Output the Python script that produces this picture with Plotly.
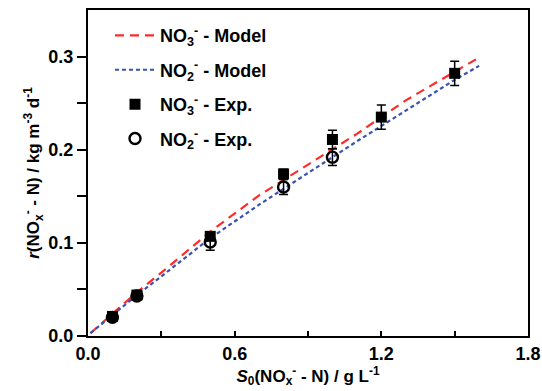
import plotly.graph_objects as go

# Model curves
model_x = [0.01, 0.1, 0.2, 0.3, 0.5, 0.7, 0.9, 1.1, 1.3, 1.5, 1.6]
no3_model_y = [0.003, 0.024, 0.047, 0.068, 0.112, 0.151, 0.184, 0.217, 0.253, 0.284, 0.299]
no2_model_y = [0.003, 0.022, 0.044, 0.064, 0.105, 0.141, 0.175, 0.209, 0.242, 0.275, 0.290]

# Experimental data
no3_exp_x = [0.1, 0.2, 0.5, 0.8, 1.0, 1.2, 1.5]
no3_exp_y = [0.021, 0.044, 0.107, 0.174, 0.211, 0.235, 0.282]
no3_exp_err = [0.004, 0.003, 0.004, 0.005, 0.010, 0.013, 0.013]
no2_exp_x = [0.1, 0.2, 0.5, 0.8, 1.0]
no2_exp_y = [0.020, 0.043, 0.101, 0.160, 0.192]
no2_exp_err = [0.004, 0.003, 0.009, 0.008, 0.009]

font_family = "Liberation Sans, Arial, sans-serif"

fig = go.Figure()
fig.add_trace(go.Scatter(
    x=model_x, y=no3_model_y, mode="lines",
    line=dict(color="#ff2a2a", width=2.2, dash="9px,6px"),
    name="NO<sub>3</sub><sup>-</sup> - Model", legendrank=1, legendgroup="a"))
fig.add_trace(go.Scatter(
    x=model_x, y=no2_model_y, mode="lines",
    line=dict(color="#3a52b0", width=2.2, dash="4px,3px"),
    name="NO<sub>2</sub><sup>-</sup> - Model", legendrank=2, legendgroup="b"))
fig.add_trace(go.Scatter(
    x=no2_exp_x, y=no2_exp_y, mode="markers",
    marker=dict(symbol="circle-open", size=11, color="black", line=dict(width=2.4, color="black")),
    error_y=dict(type="data", array=no2_exp_err, color="black", thickness=1.5, width=4.5),
    name="NO<sub>2</sub><sup>-</sup> - Exp.", legendrank=4, legendgroup="d"))
fig.add_trace(go.Scatter(
    x=no3_exp_x, y=no3_exp_y, mode="markers",
    marker=dict(symbol="square", size=11, color="black"),
    error_y=dict(type="data", array=no3_exp_err, color="black", thickness=1.5, width=4.5),
    name="NO<sub>3</sub><sup>-</sup> - Exp.", legendrank=3, legendgroup="c"))

fig.update_layout(
    width=542, height=391,
    margin=dict(l=88, r=14, t=10, b=55),
    plot_bgcolor="white", paper_bgcolor="white",
    font=dict(family=font_family, size=16, color="black"),
    showlegend=True,
    legend=dict(x=0.05, y=0.978, xanchor="left", yanchor="top",
                bgcolor="rgba(0,0,0,0)", font=dict(size=18, family=font_family, weight="bold"),
                itemwidth=40, tracegroupgap=8, traceorder="grouped"),
)
fig.update_xaxes(
    range=[0, 1.8], tickvals=[0.0, 0.6, 1.2, 1.8], ticktext=["0.0", "0.6", "1.2", "1.8"],
    ticks="inside", ticklen=5, tickwidth=1.5, tickcolor="black",
    minor=dict(tickvals=[0.3, 0.9, 1.5], ticks="inside", ticklen=5, tickwidth=1.5, tickcolor="black"),
    showline=True, linewidth=2, linecolor="black", mirror=True,
    showgrid=False, zeroline=False, automargin=False,
    tickfont=dict(size=18, family=font_family, weight="bold"),
    title=dict(text="<i>S</i><sub>0</sub>(NO<sub>x</sub><sup>-</sup> - N) / g L<sup>-1</sup>",
               font=dict(size=17, family=font_family, weight="bold"), standoff=4),
)
fig.update_yaxes(
    range=[0, 0.35], tickvals=[0.0, 0.1, 0.2, 0.3], ticktext=["0.0", "0.1", "0.2", "0.3"],
    ticks="outside", ticklen=9, tickwidth=1.5, tickcolor="black",
    minor=dict(tickvals=[0.05, 0.15, 0.25], ticks="outside", ticklen=9, tickwidth=1.5, tickcolor="black"),
    showline=True, linewidth=2, linecolor="black", mirror=True,
    showgrid=False, zeroline=False, automargin=False,
    tickfont=dict(size=18, family=font_family, weight="bold"),
    title=dict(text="<i>r</i>(NO<sub>x</sub><sup>-</sup> - N) / kg m<sup>-3</sup> d<sup>-1</sup>",
               font=dict(size=17, family=font_family, weight="bold"), standoff=4),
)

fig.write_html("out.html", config={"displayModeBar": False},
               post_script="document.body.style.margin='0px';")
